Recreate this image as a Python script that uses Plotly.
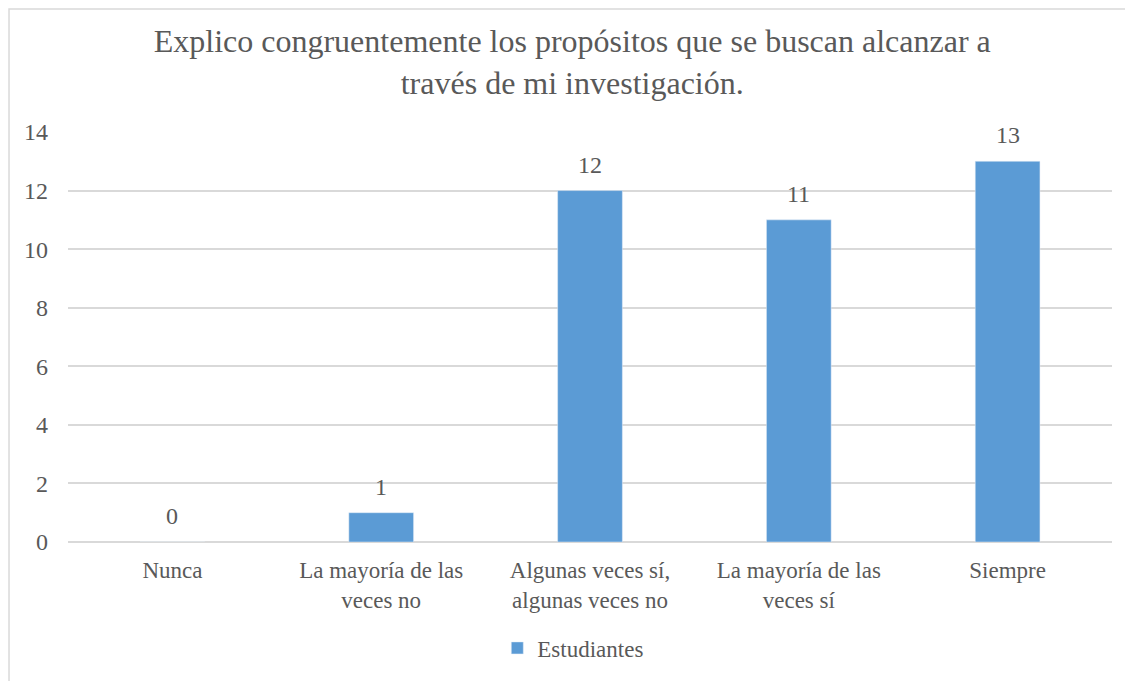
import plotly.graph_objects as go

categories = [
    "Nunca",
    "La mayoría de las<br>veces no",
    "Algunas veces sí,<br>algunas veces no",
    "La mayoría de las<br>veces sí",
    "Siempre",
]
estudiantes = [0, 1, 12, 11, 13]
y_ticks = [0, 2, 4, 6, 8, 10, 12, 14]

TEXT = "#595959"
GRID = "#d9d9d9"
BAR = "#5b9bd5"
FONT = "Liberation Serif"

fig = go.Figure()
fig.add_trace(
    go.Bar(
        x=categories,
        y=estudiantes,
        name="Estudiantes",
        marker={"color": BAR},
    )
)

# value labels above bars
for cat, val in zip(categories, estudiantes):
    fig.add_annotation(
        x=cat,
        y=val,
        text=str(val),
        showarrow=False,
        yanchor="middle",
        yshift=26,
        font={"size": 24, "color": TEXT, "family": FONT},
    )

fig.update_layout(
    width=1133,
    height=681,
    margin={"l": 60, "r": 29, "t": 124, "b": 147},
    paper_bgcolor="white",
    plot_bgcolor="white",
    font={"family": FONT, "color": TEXT, "size": 24},
    title={
        "text": "Explico congruentemente los propósitos que se buscan alcanzar a<br>través de mi investigación.",
        "font": {"size": 32, "color": TEXT, "family": FONT},
        "x": 0.498,
        "xanchor": "center",
        "y": 0.935,
        "yanchor": "top",
    },
    bargap=0.69,
    showlegend=True,
    legend={
        "orientation": "h",
        "x": 0.484,
        "xanchor": "center",
        "y": -0.2585,
        "yanchor": "middle",
        "font": {"size": 23, "color": TEXT, "family": FONT},
    },
    xaxis={
        "showgrid": False,
        "showline": False,
        "ticks": "",
        "ticklabelstandoff": 12,
        "tickfont": {"size": 23, "color": TEXT, "family": FONT},
    },
    yaxis={
        "range": [0, 14],
        "tickvals": y_ticks,
        "showgrid": True,
        "gridcolor": GRID,
        "gridwidth": 1.5,
        "zeroline": True,
        "zerolinecolor": GRID,
        "zerolinewidth": 1.5,
        "ticks": "",
        "ticklabelstandoff": 19,
        "tickfont": {"size": 24, "color": TEXT, "family": FONT},
    },
    shapes=[
        {
            "type": "rect",
            "xref": "paper",
            "yref": "paper",
            "x0": -0.0565,
            "x1": 1.08,
            "y0": -0.5,
            "y1": 1.3,
            "line": {"color": GRID, "width": 1.5},
            "fillcolor": "rgba(0,0,0,0)",
            "layer": "below",
        }
    ],
)

fig.write_html("out.html")
